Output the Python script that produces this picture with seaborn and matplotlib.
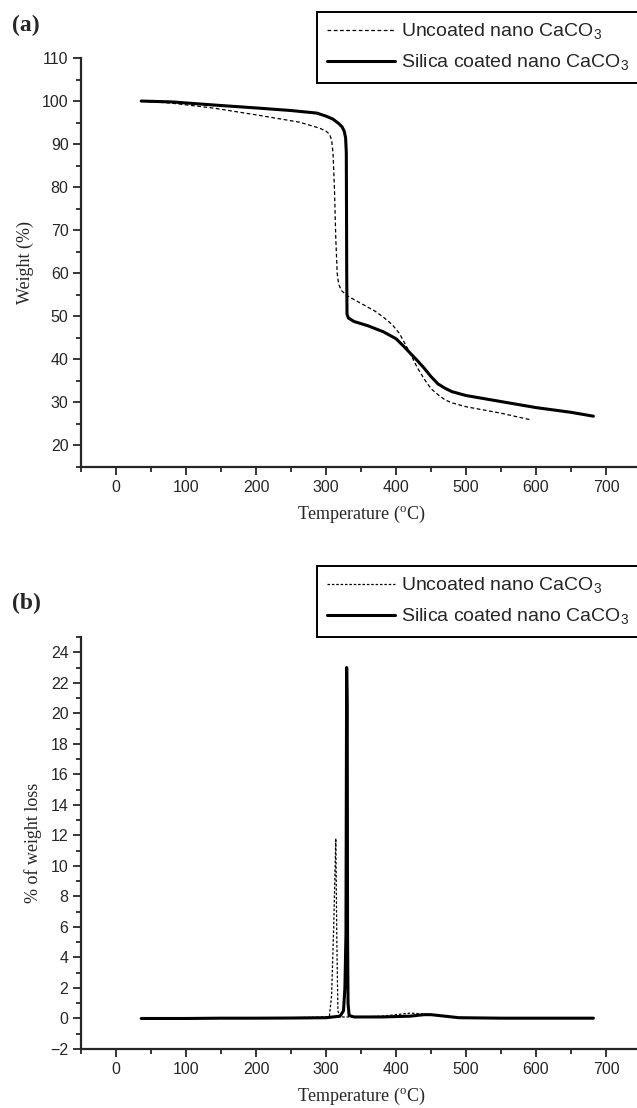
import numpy as np
import matplotlib
matplotlib.use("Agg")
import matplotlib.pyplot as plt
import seaborn as sns
from matplotlib.ticker import MultipleLocator

# TGA curves (weight %)
t_uncoated = [36, 80, 138, 200, 262, 291, 300, 305, 308, 310, 312, 314, 316, 318, 322, 330, 350, 370, 382,
              395, 405, 410, 420, 430, 440, 450, 460, 470, 480, 500, 550, 594]
w_uncoated = [100, 99.5, 98.4, 96.8, 95.1, 93.7, 93, 92.3, 91, 88, 80, 68, 60, 57.5, 56, 54.8, 53, 51.2, 49.8,
              48, 46, 44.5, 41.5, 38.2, 35.5, 33.2, 31.8, 30.6, 29.9, 29, 27.5, 25.9]

t_coated = [36, 80, 138, 200, 250, 287, 300, 310, 318, 323, 326, 328, 329, 329.3, 329.6, 330, 332, 340, 360,
            382, 400, 410, 420, 430, 440, 450, 460, 470, 480, 500, 550, 600, 650, 682]
w_coated = [100, 99.8, 99.1, 98.4, 97.8, 97.2, 96.5, 95.8, 94.8, 94, 93, 91.5, 88, 75, 60, 50.5, 49.6, 48.8, 47.8,
            46.4, 44.8, 43.2, 41.5, 39.8, 38, 36, 34.3, 33.3, 32.5, 31.6, 30.2, 28.8, 27.7, 26.8]

# DTG curves (% of weight loss)
dt_uncoated = [36, 100, 150, 200, 250, 300, 305, 308, 311, 314, 315.5, 317, 320, 350, 380, 400, 420, 440, 460, 480, 500, 550, 594]
dw_uncoated = [0, 0, 0.05, 0.05, 0.05, 0.1, 0.2, 1.5, 6, 11.8, 5, 0.5, 0.1, 0.1, 0.15, 0.25, 0.35, 0.3, 0.2, 0.1, 0.05, 0.02, 0.02]

dt_coated = [36, 100, 150, 200, 250, 300, 320, 325, 327, 328.5, 329.5, 330.3, 330.8, 331.5, 333, 340, 380, 420, 440, 450, 470, 490, 550, 600, 682]
dw_coated = [0, 0, 0.02, 0.02, 0.03, 0.05, 0.15, 0.5, 2, 5.5, 23, 20.5, 5.5, 1, 0.2, 0.1, 0.1, 0.15, 0.25, 0.25, 0.15, 0.05, 0.02, 0.02, 0.02]

sns.set_style("ticks")
plt.rcParams["font.family"] = ["Liberation Sans", "DejaVu Sans"]
serif = ["Liberation Serif", "DejaVu Serif"]

W, H = 637, 1108
fig = plt.figure(figsize=(W / 100, H / 100), dpi=100)


def px_axes(left, top, right, bottom):
    return fig.add_axes([left / W, 1 - bottom / H, (right - left) / W, (bottom - top) / H])


ax1 = px_axes(81, 58, 641, 467)
ax2 = px_axes(81, 637, 641, 1049)

lab_u = "Uncoated nano CaCO$_\\mathregular{3}$"
lab_c = "Silica coated nano CaCO$_\\mathregular{3}$"

sns.lineplot(x=t_uncoated, y=w_uncoated, ax=ax1, color="black", lw=0.9,
             linestyle=(0, (3, 2)), label=lab_u)
sns.lineplot(x=t_coated, y=w_coated, ax=ax1, color="black", lw=2.2, label=lab_c)

sns.lineplot(x=dt_uncoated, y=dw_uncoated, ax=ax2, color="black", lw=0.9,
             linestyle=(0, (2, 1.5)), label=lab_u)
sns.lineplot(x=dt_coated, y=dw_coated, ax=ax2, color="black", lw=2.2, label=lab_c)

for ax, ylim, ymaj, ymin in [(ax1, (15, 110), 10, 5), (ax2, (-2, 25), 2, 1)]:
    ax.set_xlim(-50, 750)
    ax.set_ylim(*ylim)
    ax.xaxis.set_major_locator(MultipleLocator(100))
    ax.xaxis.set_minor_locator(MultipleLocator(50))
    ax.yaxis.set_major_locator(MultipleLocator(ymaj))
    ax.yaxis.set_minor_locator(MultipleLocator(ymin))
    ax.set_xticks(range(0, 701, 100))
    ax.set_yticks(np.arange(ylim[0] + (ymaj - ylim[0] % ymaj) % ymaj, ylim[1] + 0.01, ymaj))
    ax.spines["top"].set_visible(False)
    ax.spines["right"].set_visible(False)
    for s in ("left", "bottom"):
        ax.spines[s].set_linewidth(1.6)
    ax.tick_params(which="major", direction="out", length=6, width=1.3, labelsize=11.5, pad=3)
    ax.tick_params(which="minor", direction="out", length=3.5, width=1.3)
    ax.set_xlabel("Temperature ($^\\mathregular{o}$C)", family=serif, fontsize=13, labelpad=7)
    ax.get_legend().remove()

ax1.set_ylabel("Weight (%)", family=serif, fontsize=13, labelpad=6)
ax2.set_ylabel("% of weight loss", family=serif, fontsize=13, labelpad=6)

fig.text(12 / W, 1 - 25 / H, "(a)", family=serif, fontweight="bold", fontsize=17, va="center")
fig.text(12 / W, 1 - 603 / H, "(b)", family=serif, fontweight="bold", fontsize=17, va="center")

for ax, top in [(ax1, 12), (ax2, 566)]:
    handles, labels = ax.get_legend_handles_labels()
    leg = fig.legend(handles, labels, loc="upper right", bbox_to_anchor=(1.003, 1 - top / H),
                     fontsize=14, frameon=True, fancybox=False, edgecolor="black",
                     handlelength=3.5, handletextpad=0.3, borderpad=0.5, labelspacing=0.55,
                     borderaxespad=0)
    leg.get_frame().set_linewidth(1.4)
    leg.get_frame().set_alpha(1)

fig.savefig("out.png", dpi=100)
